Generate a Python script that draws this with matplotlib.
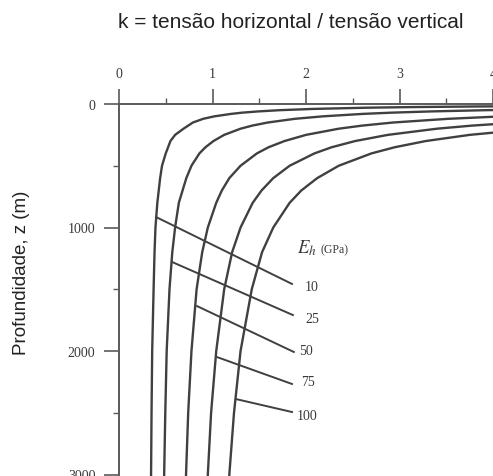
import matplotlib
matplotlib.use("Agg")
import matplotlib.pyplot as plt
from matplotlib.ticker import MultipleLocator

# ---- data ----
moduli = [10, 25, 50, 75, 100]  # Eh (GPa)

depth_10 = [15, 20, 25, 30, 40, 50, 60, 70, 80, 100, 120, 150, 200, 250, 300, 400, 500, 600, 800, 1000, 1200, 1500, 2000, 2500, 3000, 3050]
k_10 = [4.99, 3.82, 3.12, 2.65, 2.07, 1.72, 1.49, 1.32, 1.20, 1.02, 0.90, 0.79, 0.69, 0.60, 0.55, 0.50, 0.46, 0.44, 0.41, 0.39, 0.38, 0.37, 0.355, 0.348, 0.343, 0.342]

depth_25 = [30, 40, 50, 60, 70, 80, 100, 120, 150, 175, 200, 250, 300, 350, 400, 500, 600, 800, 1000, 1200, 1500, 2000, 2500, 3000, 3050]
k_25 = [6.26, 4.80, 3.93, 3.34, 2.92, 2.61, 2.18, 1.88, 1.59, 1.425, 1.30, 1.125, 1.01, 0.925, 0.86, 0.775, 0.72, 0.64, 0.60, 0.57, 0.54, 0.51, 0.495, 0.483, 0.482]

depth_50 = [60, 70, 80, 100, 120, 150, 175, 200, 250, 300, 350, 400, 500, 600, 700, 800, 1000, 1200, 1500, 2000, 2500, 3000, 3050]
k_50 = [6.43, 5.60, 4.975, 4.10, 3.52, 2.93, 2.60, 2.35, 2.00, 1.77, 1.60, 1.475, 1.30, 1.18, 1.10, 1.04, 0.95, 0.89, 0.83, 0.775, 0.74, 0.717, 0.715]

depth_75 = [100, 120, 150, 175, 200, 250, 300, 350, 400, 500, 600, 700, 800, 1000, 1200, 1500, 2000, 2500, 3000, 3050]
k_75 = [6.03, 5.15, 4.275, 3.775, 3.40, 2.875, 2.525, 2.275, 2.09, 1.825, 1.65, 1.525, 1.43, 1.30, 1.21, 1.125, 1.04, 0.985, 0.95, 0.947]

depth_100 = [120, 150, 175, 200, 250, 300, 350, 400, 500, 600, 700, 800, 1000, 1200, 1500, 2000, 2500, 3000, 3050]
k_100 = [6.78, 5.62, 4.95, 4.45, 3.75, 3.28, 2.95, 2.70, 2.35, 2.12, 1.95, 1.825, 1.65, 1.53, 1.42, 1.30, 1.23, 1.18, 1.18]

curves_k = [k_10, k_25, k_50, k_75, k_100]
curves_z = [depth_10, depth_25, depth_50, depth_75, depth_100]

# leader lines: start on curve (k, z) -> end near label (k, z)
leader_start_k = [0.396, 0.567, 0.834, 1.048, 1.25]
leader_start_z = [915, 1279, 1636, 2049, 2389]
leader_end_k = [1.85, 1.86, 1.87, 1.85, 1.85]
leader_end_z = [1457, 1709, 2008, 2267, 2494]
label_k = [1.99, 1.99, 1.93, 1.95, 1.90]
label_z = [1474, 1733, 2000, 2251, 2526]
label_text = ["10", "25", "50", "75", "100"]

x_ticks = [0, 1, 2, 3, 4]
y_ticks = [0, 1000, 2000, 3000]

# ---- figure ----
W, H = 493, 477
fig = plt.figure(figsize=(W / 100, H / 100), dpi=100)
left = 119 / W
top = 1 - 105 / H
ax = fig.add_axes([left, 0.0, 1 - left, top])

line_col = "#404040"
axis_col = "#5a5a5a"
text_col = "#3a3a3a"

for kk, zz in zip(curves_k, curves_z):
    ax.plot(kk, zz, color=line_col, lw=1.7, solid_capstyle="round", solid_joinstyle="round")

for sk, sz, ek, ez in zip(leader_start_k, leader_start_z, leader_end_k, leader_end_z):
    ax.plot([sk, ek], [sz, ez], color=line_col, lw=1.4)

serif = ["Liberation Serif", "DejaVu Serif"]
for lk, lz, t in zip(label_k, label_z, label_text):
    ax.text(lk, lz, t, fontsize=10, family=serif, color=text_col, ha="left", va="center")

matplotlib.rcParams["mathtext.fontset"] = "stix"
ax.text(1.90, 1158, r"$E_h$", fontsize=13.5, color=text_col, ha="left", va="center")
ax.text(2.15, 1174, "(GPa)", fontsize=8.5, family=serif, color=text_col, ha="left", va="center")

ax.set_xlim(0, (W - 119) / 93.5)
ax.set_ylim((H - 105) * 1000 / 123.5, 0)

for s in ["right", "bottom"]:
    ax.spines[s].set_visible(False)
for s in ["top", "left"]:
    ax.spines[s].set_color(axis_col)
    ax.spines[s].set_linewidth(1.4)

ax.xaxis.tick_top()
ax.set_xticks(x_ticks)
ax.set_xticklabels([str(v) for v in x_ticks])
ax.set_yticks(y_ticks)
ax.set_yticklabels([str(v) for v in y_ticks])
ax.xaxis.set_minor_locator(MultipleLocator(0.5))
ax.yaxis.set_minor_locator(MultipleLocator(500))
ax.tick_params(axis="both", which="major", direction="out", length=11, width=1.2,
               color=axis_col, labelsize=10, labelcolor=text_col, pad=6)
ax.tick_params(axis="both", which="minor", direction="out", length=4, width=1.0, color=axis_col)
for lab in ax.get_xticklabels() + ax.get_yticklabels():
    lab.set_family(serif)

fig.text(291 / W, 1 - 22 / H, "k = tensão horizontal / tensão vertical",
         fontsize=15, family=["Liberation Sans", "DejaVu Sans"], color="#222222",
         ha="center", va="center")
fig.text(22 / W, 1 - 273 / H, "Profundidade, z (m)", rotation=90,
         fontsize=13.5, family=["Liberation Sans", "DejaVu Sans"], color="#222222",
         ha="center", va="center")

fig.savefig("out.png", dpi=100)
